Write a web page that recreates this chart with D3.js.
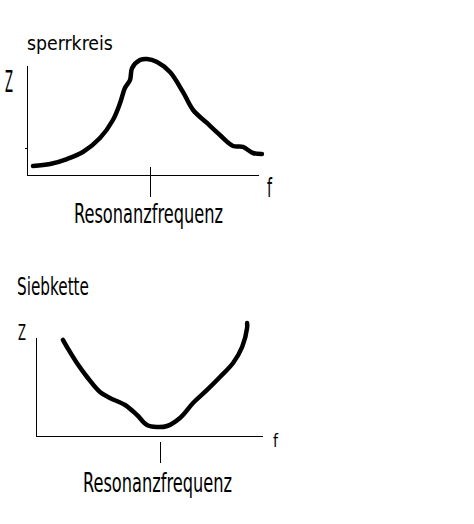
<!DOCTYPE html>
<html>
<head>
<meta charset="utf-8">
<script src="https://cdn.jsdelivr.net/npm/d3@7"></script>
<style>
  body { margin: 0; background: #fff; }
  text { font-family: "DejaVu Sans", "Liberation Sans", sans-serif; font-stretch: condensed; fill: #000; }
</style>
</head>
<body>
<script>
// Define SVG area dimensions
var svgWidth = 474;
var svgHeight = 524;

// sperrkreis (parallel resonant circuit): impedance over frequency, axis units 0..100
var sperrF = [2.6, 10.0, 17.3, 24.2, 31.6, 37.2, 40.3, 42.4, 44.6, 45.5, 48.9, 51.9, 56.3, 61.9, 67.5, 71.9, 77.9, 83.5, 89.2, 93.5, 97.8, 101.7];
var sperrZ = [8.2, 10.0, 14.5, 20.9, 33.6, 50.0, 65.5, 79.1, 86.4, 97.3, 104.5, 105.5, 102.7, 93.6, 75.5, 59.1, 47.3, 36.4, 26.4, 25.5, 20.0, 19.1];
var sperrResonanz = 53.2;
var sperrYTick = 24.5;

// Siebkette (series circuit): impedance over frequency
var siebF = [11.9, 13.7, 18.1, 22.6, 28.3, 32.7, 39.4, 44.7, 49.1, 53.5, 58.0, 63.7, 69.5, 75.7, 81.4, 87.2, 91.2, 93.4, 93.4];
var siebZ = [97.0, 89.9, 73.7, 59.6, 44.4, 38.4, 31.3, 21.2, 11.1, 9.1, 10.1, 18.2, 33.3, 46.5, 59.6, 73.7, 89.9, 109.1, 114.1];
var siebResonanz = 54.9;

// Labels
var titles = ["sperrkreis", "Siebkette"];
var yLabel = "Z";
var xLabel = "f";
var tickLabel = "Resonanzfrequenz";

var svg = d3.select("body")
  .append("svg")
  .attr("width", svgWidth)
  .attr("height", svgHeight);

var line = d3.line()
  .x(d => d.x)
  .y(d => d.y)
  .curve(d3.curveCatmullRom);

// text squeezed horizontally to the narrow lettering of the original
function addText(x, y, size, len, str) {
  var t = svg.append("text")
    .attr("font-size", size)
    .text(str);
  var natural = t.node().getComputedTextLength();
  t.attr("transform", `translate(${x}, ${y}) scale(${len / natural}, 1)`);
}

function drawChart(cfg) {
  var xScale = d3.scaleLinear().domain([0, 100]).range([cfg.left, cfg.right]);
  var yScale = d3.scaleLinear().domain([0, 100]).range([cfg.bottom, cfg.top]);

  // x axis with the single resonance tick
  var xAxis = d3.axisBottom(xScale)
    .tickValues([cfg.resonanz])
    .tickSizeOuter(0)
    .tickFormat("");
  var gx = svg.append("g")
    .attr("transform", `translate(0, ${cfg.bottom})`)
    .call(xAxis);
  gx.select(".domain").attr("stroke", "#000").attr("shape-rendering", "crispEdges");
  gx.selectAll(".tick line")
    .attr("y1", cfg.tickFrom)
    .attr("y2", cfg.tickTo)
    .attr("stroke", "#000")
    .attr("shape-rendering", "crispEdges");

  // y axis
  var yAxis = d3.axisLeft(yScale)
    .tickValues(cfg.yTicks)
    .tickSizeInner(2)
    .tickSizeOuter(0)
    .tickFormat("");
  var gy = svg.append("g")
    .attr("transform", `translate(${cfg.left}, 0)`)
    .call(yAxis);
  gy.select(".domain").attr("stroke", "#000").attr("shape-rendering", "crispEdges");
  gy.selectAll(".tick line").attr("stroke", "#000").attr("shape-rendering", "crispEdges");

  // curve
  var pts = cfg.f.map((f, i) => ({ x: xScale(f), y: yScale(cfg.z[i]) }));
  svg.append("path")
    .attr("d", line(pts))
    .attr("fill", "none")
    .attr("stroke", "#000")
    .attr("stroke-width", 4.5)
    .attr("stroke-linecap", "round")
    .attr("stroke-linejoin", "round");
}

drawChart({
  left: 27, right: 258, top: 65, bottom: 175,
  f: sperrF, z: sperrZ, resonanz: sperrResonanz,
  yTicks: [sperrYTick], tickFrom: -8, tickTo: 22
});
addText(27, 50, 19, 86, titles[0]);
addText(5, 92, 30, 8, yLabel);
addText(267, 197, 26, 5, xLabel);
addText(74, 223, 27, 149, tickLabel);

drawChart({
  left: 36, right: 262, top: 337, bottom: 436,
  f: siebF, z: siebZ, resonanz: siebResonanz,
  yTicks: [], tickFrom: 6, tickTo: 27
});
addText(17, 295, 25, 72, titles[1]);
addText(18, 340, 21, 8, yLabel);
addText(273, 447, 18, 5, xLabel);
addText(83, 492, 26, 149, tickLabel);
</script>
</body>
</html>
